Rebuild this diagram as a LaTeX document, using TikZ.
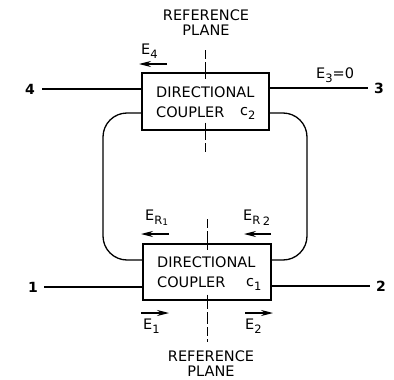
\documentclass[tikz,border=0pt]{standalone}
\usepackage{fontspec}
\setmainfont{DejaVu Sans}
\usetikzlibrary{arrows.meta,calc}
\tikzset{
  coupler/.style={draw,line width=1.4pt,fill=white,inner sep=0pt},
  wire/.style={line width=1.3pt},
  refline/.style={line width=1pt,dash pattern=on 9pt off 3pt on 12pt off 3pt},
  stub/.style={line width=1pt},
  wave/.style={line width=1.1pt,-{Stealth[length=12pt,width=6pt]}},
  lab/.style={font=\fontsize{14.5}{15}\selectfont,inner sep=0pt},
  port/.style={font=\fontsize{14}{15}\bfseries\selectfont,inner sep=0pt}
}
\newcommand{\sbs}[1]{\raisebox{-4pt}{\fontsize{11.5}{12}\selectfont #1}}
\begin{document}
\begin{tikzpicture}[x=1pt,y=-1pt]
\useasboundingbox (0,0) rectangle (394,380);
% reference planes (behind boxes)
\coordinate (pt1) at (205,50); \coordinate (pt2) at (205,152);
\coordinate (pb1) at (207,219); \coordinate (pb2) at (207,342);
\draw[refline] (pt1) -- (pt2);
\draw[refline] (pb1) -- (pb2);
% boxes
\node[coupler,minimum width=127pt,minimum height=57pt] (c2) at (205.5,101.5) {};
\node[coupler,minimum width=128pt,minimum height=56pt] (c1) at (207,272) {};
\node[lab,anchor=west] (c2a) at (156,92) {DIRECTIONAL};
\node[lab,anchor=west] (c2b) at (156,112) {COUPLER};
\node[lab,anchor=west] (c2c) at (240,113) {c\sbs{2}};
\node[lab,anchor=west] (c1a) at (157,262) {DIRECTIONAL};
\node[lab,anchor=west] (c1b) at (157,282) {COUPLER};
\node[lab,anchor=west] (c1c) at (246,284) {c\sbs{1}};
% plane stubs over the boxes
\draw[stub] (c2.north -| pt1) ++(0,-1) -- ++(0,8);
\draw[stub] (c2.south -| pt1) ++(0,-8) -- ++(0,8);
\draw[stub] (c1.north -| pb1) -- ++(0,7);
\draw[stub] (c1.south -| pb1) ++(0,-6) -- ++(0,6);
% ports
\node[port] (p4) at (30,89) {4};
\node[port] (p3) at (379,88) {3};
\node[port] (p1) at (33,287) {1};
\node[port] (p2) at (381,286) {2};
\draw[wire] ($(p4.east)+(7,0)$) -- (c2.west |- p4.east);
\draw[wire] (c2.east |- p3.west) -- ($(p3.west)+(-6,0)$);
\draw[wire] ($(p1.east)+(6,0)$) -- (c1.west |- p1.east);
\draw[wire] (c1.east |- p2.west) -- ($(p2.west)+(-6,0)$);
% loops
\coordinate (tl) at (142,113); \coordinate (tr) at (269,113);
\coordinate (bl) at (143,260); \coordinate (br) at (271,260);
\draw[wire,rounded corners=24pt] (tl) -- (103,113) -- (103,260) -- (bl);
\draw[wire,rounded corners=24pt] (tr) -- (307,113) -- (307,260) -- (br);
% arrows
\coordinate (a4s) at (167,64); \coordinate (a4e) at (139,64);
\coordinate (r1s) at (169,234); \coordinate (r1e) at (141,234);
\coordinate (r2s) at (271,234); \coordinate (r2e) at (244,234);
\coordinate (e1s) at (141,313); \coordinate (e1e) at (169,313);
\coordinate (e2s) at (245,313); \coordinate (e2e) at (273,313);
\draw[wave] (a4s) -- (a4e);
\draw[wave] (r1s) -- (r1e);
\draw[wave] (r2s) -- (r2e);
\draw[wave] (e1s) -- (e1e);
\draw[wave] (e2s) -- (e2e);
% labels
\node[lab] (rt1) at (206,15) {REFERENCE};
\node[lab] (rt2) at (206,30) {PLANE};
\node[lab] (rb1) at (211,356.5) {REFERENCE};
\node[lab] (rb2) at (211,371) {PLANE};
\node[lab,anchor=west] (e4) at (141,51) {E\sbs{4}};
\node[lab,anchor=west] (e3) at (316,75) {E\sbs{3}=0};
\node[lab,anchor=west] (er1) at (145,218) {E\sbs{R}\raisebox{-5pt}{\fontsize{9}{10}\selectfont 1}};
\node[lab,anchor=west] (er2) at (243,218) {E\sbs{R}\,\raisebox{-5pt}{\fontsize{11.5}{10}\selectfont 2}};
\node[lab,anchor=west] (e1) at (143,326) {E\sbs{1}};
\node[lab,anchor=west] (e2) at (245,326) {E\sbs{2}};
\end{tikzpicture}
\end{document}
